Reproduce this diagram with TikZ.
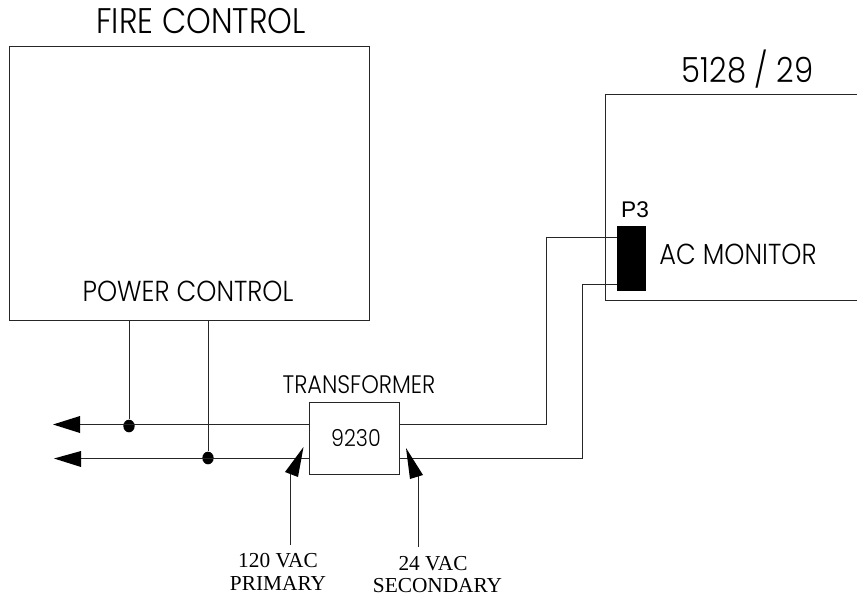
\documentclass[tikz,border=0pt]{standalone}
\usepackage{fontspec}
\usetikzlibrary{shapes.geometric}
\setmainfont{Liberation Serif}
\newfontfamily\agfont{Poppins Light}
\newfontfamily\arfont{Liberation Sans}
\newcommand\tallen[1]{\scalebox{1}[1.13]{#1}}
\begin{document}
\begin{tikzpicture}[x=0.75pt,y=-0.75pt,
  wire/.style={line width=0.75pt,draw=black!85},
  box/.style={draw=black!85,line width=0.75pt,inner sep=0pt,fill=white},
  jdot/.style={fill=black,shape=ellipse,inner sep=0pt,minimum width=8.5pt,minimum height=9.5pt},
  head/.style={fill=black,draw=none},
  big/.style={inner sep=0pt,font=\agfont\fontsize{23.6}{25}\selectfont},
  mid/.style={inner sep=0pt,font=\agfont\fontsize{19.2}{21}\selectfont},
  small/.style={inner sep=0pt,font=\agfont\fontsize{16.8}{18}\selectfont},
  caplab/.style={inner sep=0pt,font=\fontsize{16}{17}\selectfont}]
\useasboundingbox (0,0) rectangle (857,600);
\fill[white] (0,0) rectangle (857,600);
% boxes
\node[box,minimum width=270pt,minimum height=205.5pt] (fire) at (189,183) {};
\node[box,minimum width=67.5pt,minimum height=54pt] (xf) at (354,438) {};
\coordinate (mtr) at (857,94);
\coordinate (mtl) at (605,94);
\coordinate (mbl) at (605,300);
\coordinate (mbr) at (857,300);
\draw[wire] (mtr) -- (mtl) -- (mbl) -- (mbr);
\node[fill=black,inner sep=0pt,minimum width=21.75pt,minimum height=48.75pt] (p3) at (631.5,258.5) {};
% junctions
\node[jdot] (ja) at (129,426) {};
\node[jdot] (jb) at (208,458) {};
\coordinate (enda) at (80,424);
\coordinate (endb) at (81,458);
\coordinate (fa) at (129,320);
\coordinate (fb) at (208,320);
\coordinate (xla) at (309,424);
\coordinate (xlb) at (309,458);
\coordinate (xra) at (399,424);
\coordinate (xrb) at (399,458);
\coordinate (pa) at (617,237);
\coordinate (pb) at (617,284);
% wires
\draw[wire] (enda) -- (xla);
\draw[wire] (endb) -- (xlb);
\draw[wire] (fa) -- (ja);
\draw[wire] (fb) -- (jb);
\draw[wire] (xra) -| (546,237) -- (pa);
\draw[wire] (xrb) -| (582,284) -- (pb);
% arrowheads
\fill[head] (53,424.5) -- (80,416) -- (80,433) -- cycle;
\fill[head] (54,458.5) -- (81,451) -- (81,467) -- cycle;
\coordinate (lp) at (290,545);
\coordinate (hp) at (290,474);
\coordinate (ls) at (418,547);
\coordinate (hs) at (418,476);
\draw[wire] (lp) -- (hp);
\draw[wire] (ls) -- (hs);
\fill[head] (303.5,447) -- (285,472) -- (298,477) -- cycle;
\fill[head] (406,448) -- (410,479) -- (423,475) -- cycle;
% labels
\node[big] (t1) at (201,21) {\tallen{FIRE CONTROL}};
\node[inner sep=0pt,font=\agfont\fontsize{23}{25}\selectfont] (t2) at (747.5,69.5) {\tallen{5128 / 29}};
\node[mid] (t3) at (188,291) {\tallen{POWER CONTROL}};
\node[mid] (t4) at (738,254) {\tallen{AC MONITOR}};
\node[small] (t5) at (359,385) {\tallen{TRANSFORMER}};
\node[inner sep=0pt,font=\agfont\fontsize{15.5}{17}\selectfont] (t6) at (356,438) {\tallen{9230}};
\node[inner sep=0pt,font=\arfont\fontsize{17}{18}\selectfont] (t7) at (635,210) {P3};
\node[caplab] (t8) at (278,561) {120 VAC};
\node[caplab] (t9) at (278,583) {PRIMARY};
\node[caplab] (t10) at (433,564) {24 VAC};
\node[caplab] (t11) at (437.5,586) {SECONDARY};
\end{tikzpicture}
\end{document}
